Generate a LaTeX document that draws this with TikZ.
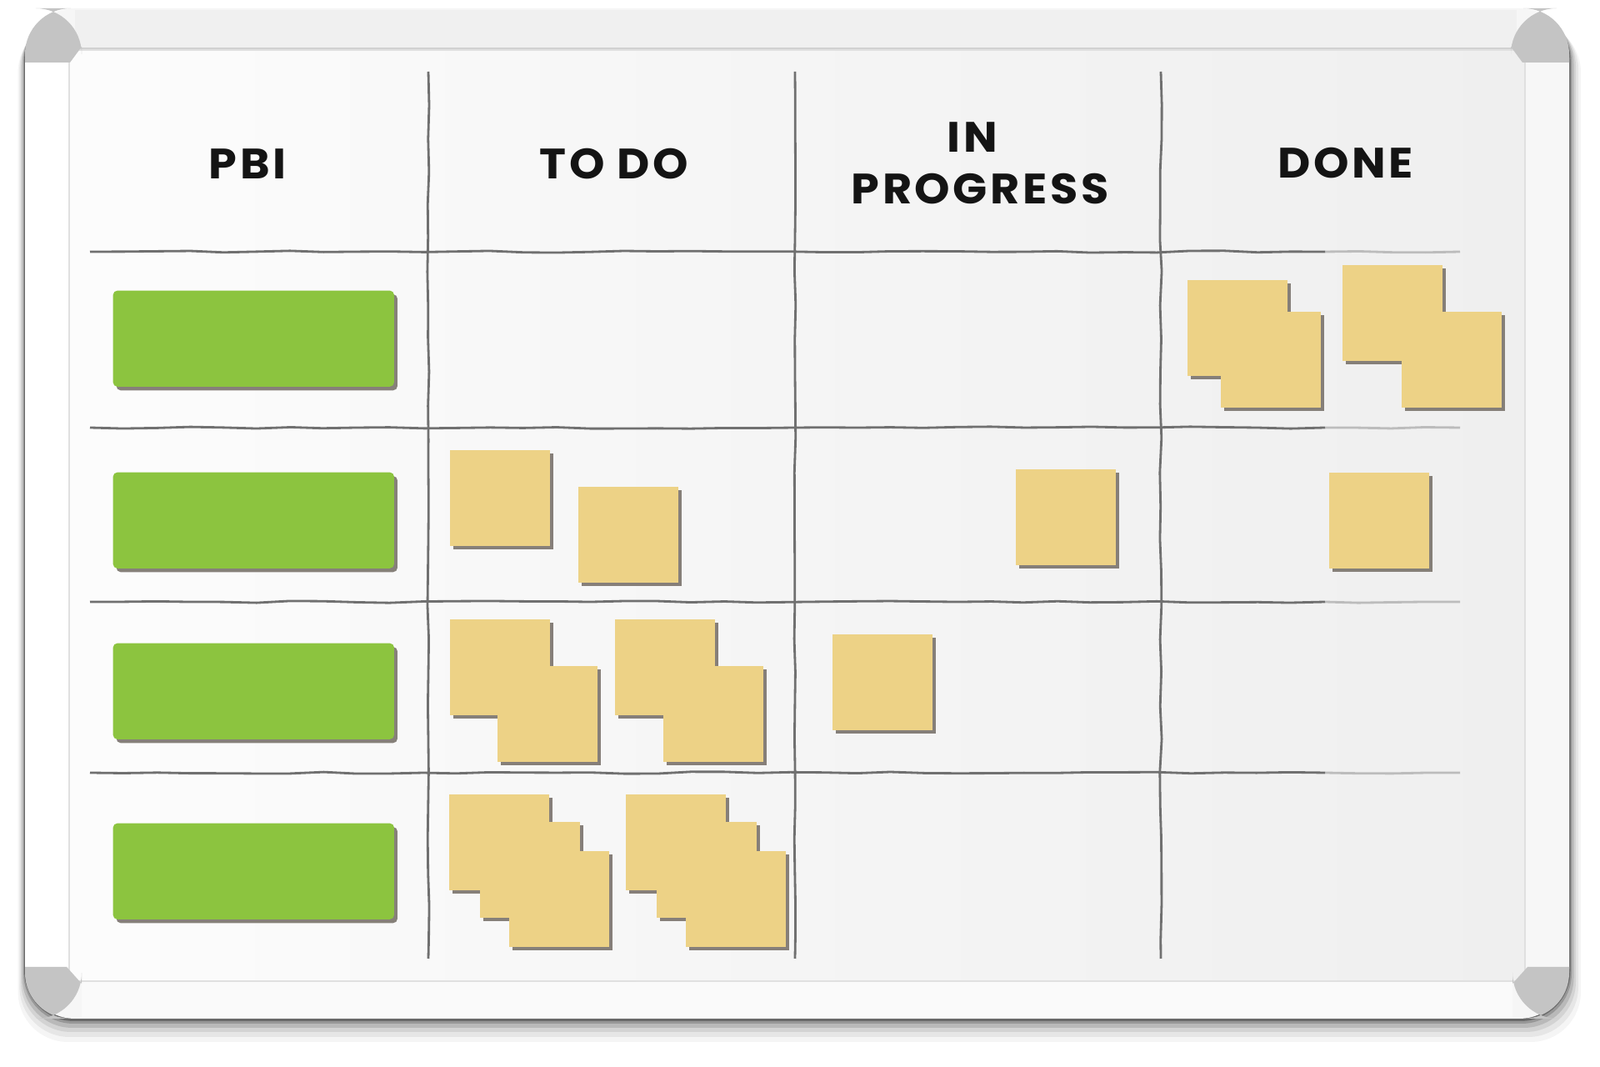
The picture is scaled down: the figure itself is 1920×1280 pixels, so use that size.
\documentclass[tikz,border=0pt]{standalone}
\usepackage{fontspec}
\setmainfont{Poppins}
\newfontfamily\hdfont{Poppins}[LetterSpace=7, FakeStretch=1.06]
\usetikzlibrary{shadows,decorations.pathmorphing}
\definecolor{notec}{HTML}{EDD286}
\definecolor{barc}{HTML}{8CC43F}
\definecolor{shdc}{HTML}{7A736C}
\definecolor{capc}{HTML}{C4C4C4}
\definecolor{linec}{HTML}{707070}
\definecolor{framec}{HTML}{F6F6F6}
\definecolor{surfc}{HTML}{EFEFEF}
\tikzset{
  stickynote/.style={fill=notec, draw=none, minimum width=1.2cm, minimum height=1.15cm, inner sep=0pt, anchor=north west,
    drop shadow={shadow xshift=0.45mm, shadow yshift=-0.45mm, fill=shdc, opacity=0.9}},
  pbibar/.style={fill=barc, draw=none, rounded corners=0.5mm, minimum width=3.37cm, minimum height=1.15cm, inner sep=0pt, anchor=north west,
    drop shadow={shadow xshift=0.4mm, shadow yshift=-0.45mm, fill=shdc, opacity=0.9}},
  header/.style={font=\hdfont\bfseries\fontsize{14.5}{17.6}\selectfont, text=black!92, align=center, inner sep=0pt},
  gridline/.style={draw=linec, line width=0.8pt, decorate, decoration={random steps, segment length=4mm, amplitude=0.12mm}},
  capshape/.style={fill=capc}
}
\begin{document}
\begin{tikzpicture}[x=0.01cm, y=-0.01cm]
\useasboundingbox (0,0) rectangle (1920,1280);
\fill[white] (0,0) rectangle (1920,1280);
% board shadow
\foreach \o/\op in {28/0.04, 22/0.06, 16/0.08, 11/0.12, 6/0.18, 3/0.3}{
  \fill[black, opacity=\op, rounded corners=0.6cm] (30-\o*0.3,10+\o*0.6) rectangle (1883+\o*0.5,1222+\o);
}
% frame
\fill[framec, rounded corners=0.6cm] (30,10) rectangle (1883,1222);
\fill[white!94!black] (90,12) rectangle (1820,58);
\fill[white] (30,75) rectangle (83,1160);
\fill[white!97!black] (1830,75) rectangle (1883,1160);
\fill[white!98!black] (98,1177) rectangle (1815,1220);
\draw[white!82!black, line width=0.8pt] (83,58) -- (1830,58);
% surface
\shade[left color=white!99!black, right color=surfc, middle color=white!96!black] (83,60) rectangle (1830,1177);
\draw[white!88!black, line width=0.6pt] (83,60) rectangle (1830,1177);
% corner caps
\fill[capc, rounded corners=0.55cm] (30,75) -- (30,10) -- (98,10) [sharp corners] -- (98,56) -- (84,75) -- cycle;
\fill[capc, rounded corners=0.55cm] (1883,75) -- (1883,10) -- (1813,10) [sharp corners] -- (1813,56) -- (1827,75) -- cycle;
\fill[capc, rounded corners=0.55cm] (30,1160) -- (30,1222) -- (98,1222) [sharp corners] -- (98,1180) -- (80,1160) -- cycle;
\fill[capc, rounded corners=0.55cm] (1883,1160) -- (1883,1222) -- (1815,1222) [sharp corners] -- (1815,1180) -- (1833,1160) -- cycle;
% grid
\foreach \yy in {302,513,722,927}{
  \draw[gridline] (108,\yy) -- (1590,\yy);
  \draw[gridline, draw opacity=0.4] (1590,\yy) -- (1752,\yy);
}
\foreach \xx in {514,954,1393}{
  \draw[gridline] (\xx,86) -- (\xx,1150);
}
% headers
\node[header] (hpbi) at (297,197) {PBI};
\node[header] (htodo) at (737,197) {TO DO};
\node[header] (hin) at (1167,165) {IN};
\node[header] (hprog) at (1176,227) {PROGRESS};
\node[header] (hdone) at (1615,196) {DONE};
% PBI bars
\node[pbibar] (b1) at (135,348) {};
\node[pbibar] (b2) at (135,566) {};
\node[pbibar] (b3) at (135,771) {};
\node[pbibar] (b4) at (135,987) {};
% row 1
\node[stickynote] (r1a) at (1424,335) {};
\node[stickynote] (r1b) at (1464,373) {};
\node[stickynote] (r1c) at (1610,317) {};
\node[stickynote] (r1d) at (1681,373) {};
% row 2
\node[stickynote] (r2a) at (539,539) {};
\node[stickynote] (r2b) at (693,583) {};
\node[stickynote] (r2c) at (1218,562) {};
\node[stickynote] (r2d) at (1594,566) {};
% row 3
\node[stickynote] (r3a) at (539,742) {};
\node[stickynote] (r3b) at (596,798) {};
\node[stickynote] (r3c) at (737,742) {};
\node[stickynote] (r3d) at (795,798) {};
\node[stickynote] (r3e) at (998,760) {};
% row 4
\node[stickynote] (r4a) at (538,952) {};
\node[stickynote] (r4b) at (575,985) {};
\node[stickynote] (r4c) at (610,1020) {};
\node[stickynote] (r4d) at (750,952) {};
\node[stickynote] (r4e) at (787,985) {};
\node[stickynote] (r4f) at (822,1020) {};
\end{tikzpicture}
\end{document}
